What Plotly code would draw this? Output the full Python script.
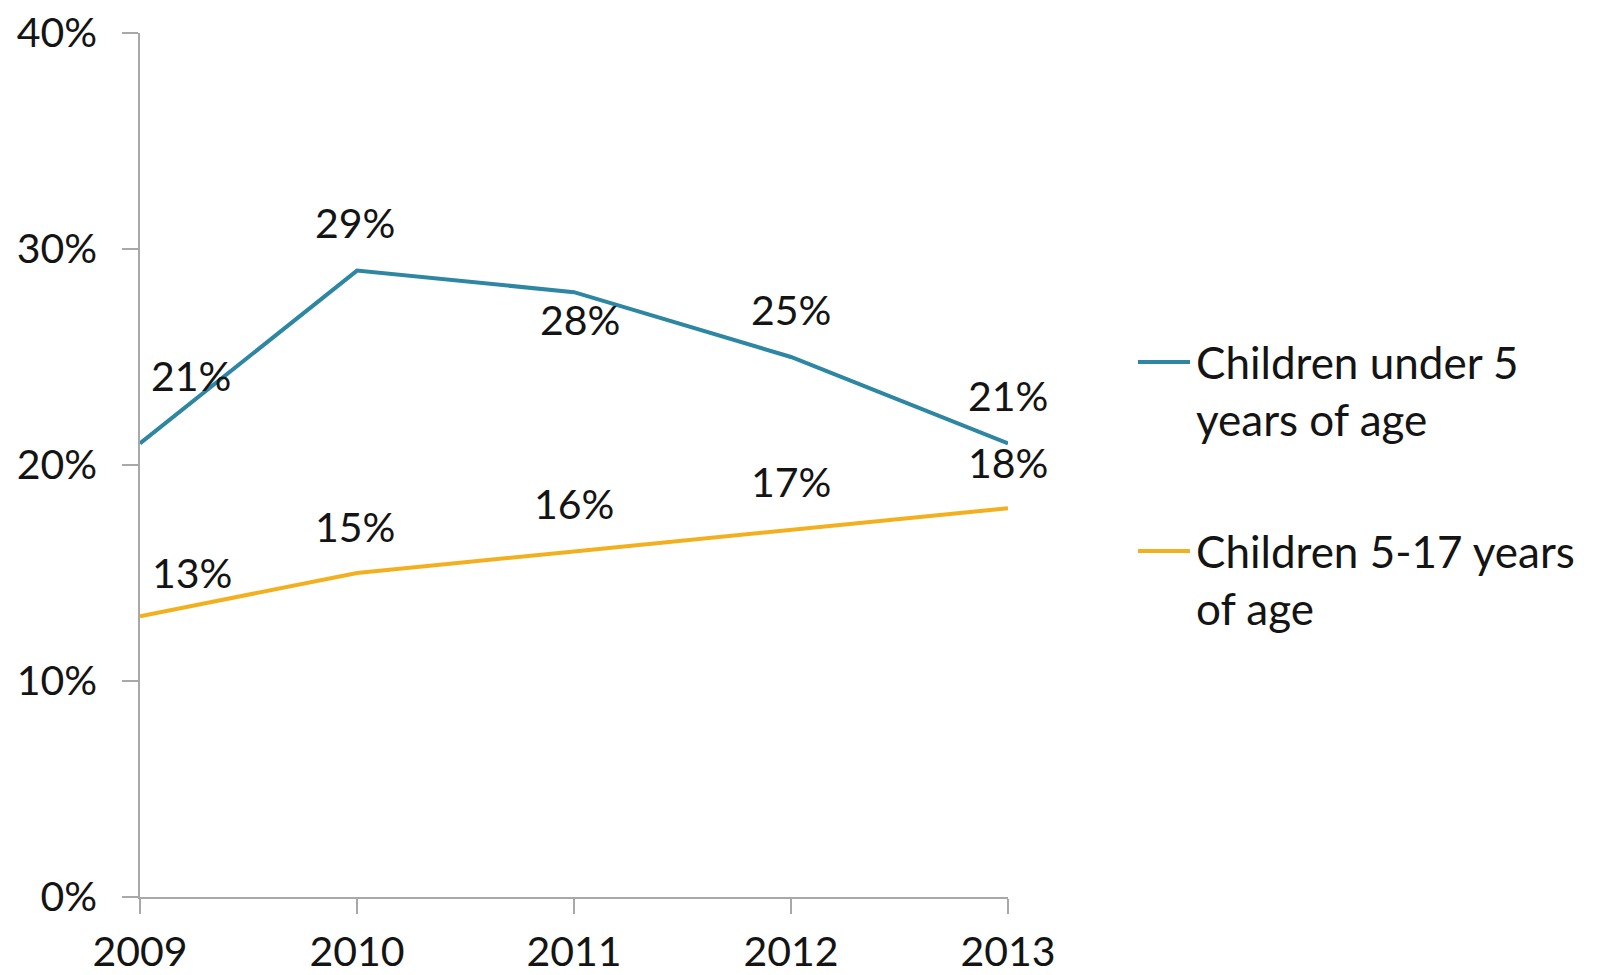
import plotly.graph_objects as go

# ---- data ----
years = [2009, 2010, 2011, 2012, 2013]
under5 = [21, 29, 28, 25, 21]
age5_17 = [13, 15, 16, 17, 18]
series_names = ["Children under 5<br>years of age", "Children 5-17 years<br>of age"]
y_ticks = [0, 10, 20, 30, 40]

# ---- styling ----
W, H = 1601, 975
L, R, T, B = 140, 593, 33, 78
PW, PH = W - L - R, H - T - B
FONT = "Lato, 'Open Sans', sans-serif"
FS = 41
LEG_FS = 44
TXT = "#141414"
AXIS = "#a8a8a8"
BLUE = "#2d86a2"
GOLD = "#f2b01e"

# label offsets (pixels) for each point's value label
blue_off = [(51, 68), (-2, 48), (6, -27), (0, 48), (0, 48)]
gold_off = [(52, 44), (-2, 47), (0, 48), (0, 48), (0, 46)]


def px(xp):
    return (xp - L) / PW


def py(yp):
    return (H - B - yp) / PH


fig = go.Figure()
for vals, color in ((under5, BLUE), (age5_17, GOLD)):
    fig.add_trace(go.Scatter(
        x=years, y=vals, mode="lines",
        line=dict(color=color, width=4),
        cliponaxis=False, showlegend=False,
    ))

annotations = []
for vals, offs in ((under5, blue_off), (age5_17, gold_off)):
    for x, v, (dx, dy) in zip(years, vals, offs):
        annotations.append(dict(
            x=x, y=v, xref="x", yref="y", text=f"{v}%", showarrow=False,
            xshift=dx, yshift=dy, xanchor="center", yanchor="middle",
            font=dict(family=FONT, size=FS, color=TXT),
        ))

# legend drawn as swatch lines + text
shapes = []
legend_rows = [(BLUE, 362, 390), (GOLD, 551, 579)]
for (color, sy, ty), name in zip(legend_rows, series_names):
    shapes.append(dict(
        type="line", xref="paper", yref="paper",
        x0=px(1138), x1=px(1190), y0=py(sy), y1=py(sy),
        line=dict(color=color, width=4),
    ))
    annotations.append(dict(
        x=px(1194), y=py(ty), xref="paper", yref="paper", text=name,
        showarrow=False, xanchor="left", yanchor="middle", align="left",
        font=dict(family=FONT, size=LEG_FS, color=TXT),
    ))

fig.update_layout(
    width=W, height=H,
    margin=dict(l=L, r=R, t=T, b=B, autoexpand=False),
    paper_bgcolor="white", plot_bgcolor="white",
    font=dict(family=FONT, size=FS, color=TXT),
    annotations=annotations, shapes=shapes,
    showlegend=False,
)
fig.update_xaxes(
    type="linear", range=[years[0], years[-1]],
    tickvals=years, ticktext=[str(y) for y in years],
    showgrid=False, zeroline=False,
    showline=True, linecolor=AXIS, linewidth=1.5,
    ticks="outside", ticklen=15, tickwidth=1.5, tickcolor=AXIS,
    ticklabelstandoff=3,
    tickfont=dict(family=FONT, size=FS, color=TXT),
)
fig.update_yaxes(
    range=[y_ticks[0], y_ticks[-1]], tickvals=y_ticks,
    ticktext=[f"{t}%" for t in y_ticks],
    showgrid=False, zeroline=False,
    showline=True, linecolor=AXIS, linewidth=1.5,
    ticks="outside", ticklen=16, tickwidth=1.5, tickcolor=AXIS,
    ticklabelstandoff=17,
    tickfont=dict(family=FONT, size=FS, color=TXT),
)

fig.write_html("out.html")
